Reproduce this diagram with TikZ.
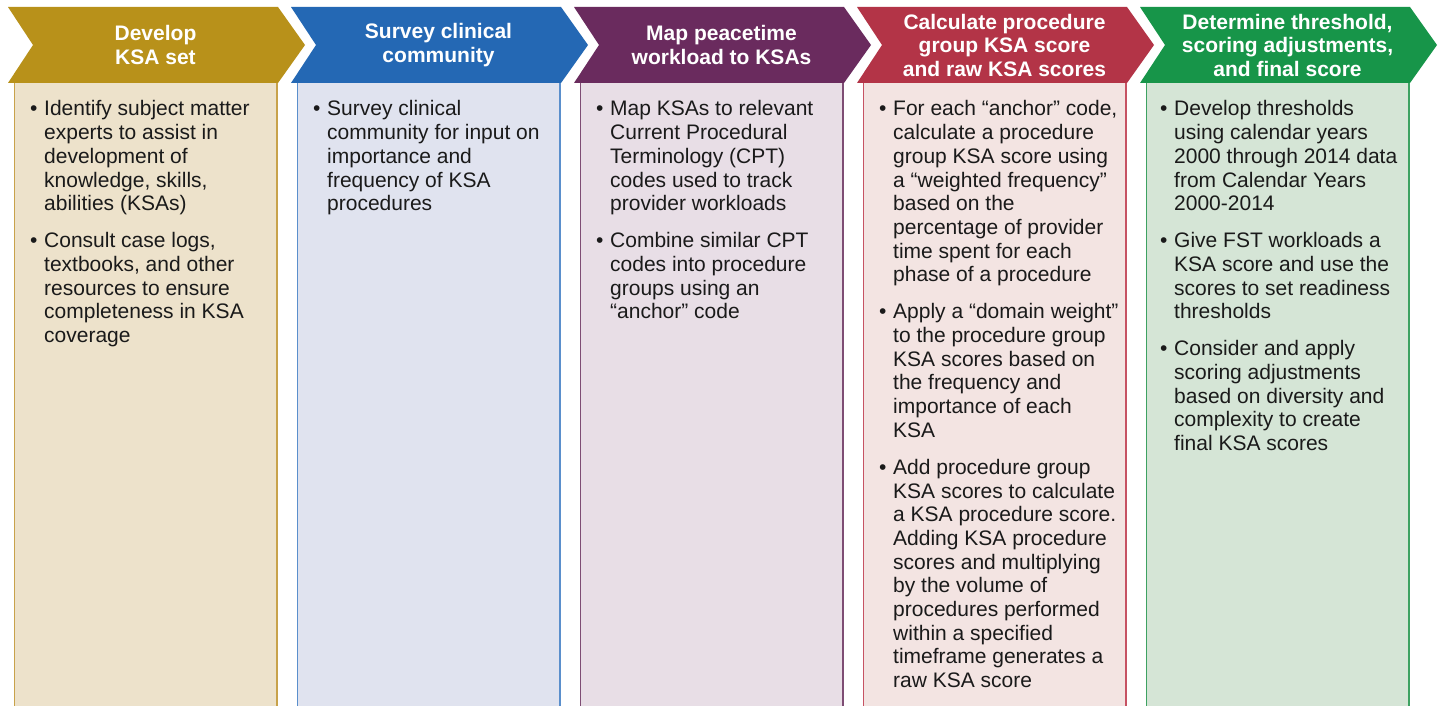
\documentclass[tikz,border=0pt]{standalone}
\usepackage{fontspec}
\setmainfont{Liberation Sans}
\newcommand\bpt[1]{\noindent\hangindent=14pt\hangafter=1\hbox to 14pt{\textbullet\hfil}#1\par}
\newcommand\bgap{\vspace{13.3pt}}
\definecolor{hgold}{HTML}{B8911A}\definecolor{fgold}{HTML}{EDE2CB}\definecolor{bgold}{HTML}{C8A24A}
\definecolor{hblue}{HTML}{2468B4}\definecolor{fblue}{HTML}{E0E3EF}\definecolor{bblue}{HTML}{5A8FCC}
\definecolor{hpurp}{HTML}{6A2B5E}\definecolor{fpurp}{HTML}{E8DEE6}\definecolor{bpurp}{HTML}{7E4D74}
\definecolor{hred}{HTML}{B33447}\definecolor{fred}{HTML}{F3E4E2}\definecolor{bred}{HTML}{C65263}
\definecolor{hgreen}{HTML}{179549}\definecolor{fgreen}{HTML}{D5E5D6}\definecolor{bgreen}{HTML}{3EA262}
\definecolor{txt}{HTML}{1A1A1A}
\tikzset{
  colbox/.style={line width=1.5pt},
  chev/.style={draw=none},
  head/.style={text=white, font=\bfseries\fontsize{21}{23.5}\selectfont, align=center, inner sep=0},
  body/.style={anchor=base west, inner sep=0, text=txt, font=\fontsize{21}{23.7}\selectfont},
}
\newcommand\column[4]{% #1 x0, #2 head colour, #3 fill, #4 border
  \fill[#3] ({#1+6.5},83) rectangle ({#1+269},712);
  \draw[colbox,#4] ({#1+6.5},83) -- ({#1+6.5},712);
  \draw[colbox,#4] ({#1+269},83) -- ({#1+269},712);
  \fill[#2] (#1,7) -- ({#1+270},7) -- ({#1+297},45) -- ({#1+270},83) -- (#1,83) -- ({#1+25},45) -- cycle;
}
\begin{document}
\begin{tikzpicture}[x=1pt,y=-1pt]
\useasboundingbox[fill=white] (0,0) rectangle (1440,706);
\column{8}{hgold}{fgold}{bgold}
\column{291}{hblue}{fblue}{bblue}
\column{574}{hpurp}{fpurp}{bpurp}
\column{857}{hred}{fred}{bred}
\column{1140}{hgreen}{fgreen}{bgreen}

\node[head] (h1) at (155.5,45) {Develop\\KSA set};
\node[head] (h2) at (438.5,45) {Survey clinical\\community};
\node[head] (h3) at (721.5,45) {Map peacetime\\workload to KSAs};
\node[head] (h4) at (1004.5,45) {Calculate procedure\\group KSA score\\and raw KSA scores};
\node[head] (h5) at (1287.5,45) {Determine threshold,\\scoring adjustments,\\and final score};

\node[body] (b1) at (30,116) {\begin{minipage}[t]{245pt}
\bpt{Identify subject matter\\experts to assist in\\development of\\knowledge, skills,\\abilities (KSAs)}\bgap
\bpt{Consult case logs,\\textbooks, and other\\resources to ensure\\completeness in KSA\\coverage}
\end{minipage}};

\node[body] (b2) at (313,116) {\begin{minipage}[t]{245pt}
\bpt{Survey clinical\\community for input on\\importance and\\frequency of KSA\\procedures}
\end{minipage}};

\node[body] (b3) at (596,116) {\begin{minipage}[t]{245pt}
\bpt{Map KSAs to relevant\\Current Procedural\\Terminology (CPT)\\codes used to track\\provider workloads}\bgap
\bpt{Combine similar CPT\\codes into procedure\\groups using an\\“anchor” code}
\end{minipage}};

\node[body] (b4) at (879,116) {\begin{minipage}[t]{245pt}
\bpt{For each “anchor” code,\\calculate a procedure\\group KSA score using\\a “weighted frequency”\\based on the\\percentage of provider\\time spent for each\\phase of a procedure}\bgap
\bpt{Apply a “domain weight”\\to the procedure group\\KSA scores based on\\the frequency and\\importance of each\\KSA}\bgap
\bpt{Add procedure group\\KSA scores to calculate\\a KSA procedure score.\\Adding KSA procedure\\scores and multiplying\\by the volume of\\procedures performed\\within a specified\\timeframe generates a\\raw KSA score}
\end{minipage}};

\node[body] (b5) at (1160,116) {\begin{minipage}[t]{245pt}
\bpt{Develop thresholds\\using calendar years\\2000 through 2014 data\\from Calendar Years\\2000-2014}\bgap
\bpt{Give FST workloads a\\KSA score and use the\\scores to set readiness\\thresholds}\bgap
\bpt{Consider and apply\\scoring adjustments\\based on diversity and\\complexity to create\\final KSA scores}
\end{minipage}};
\end{tikzpicture}
\end{document}
